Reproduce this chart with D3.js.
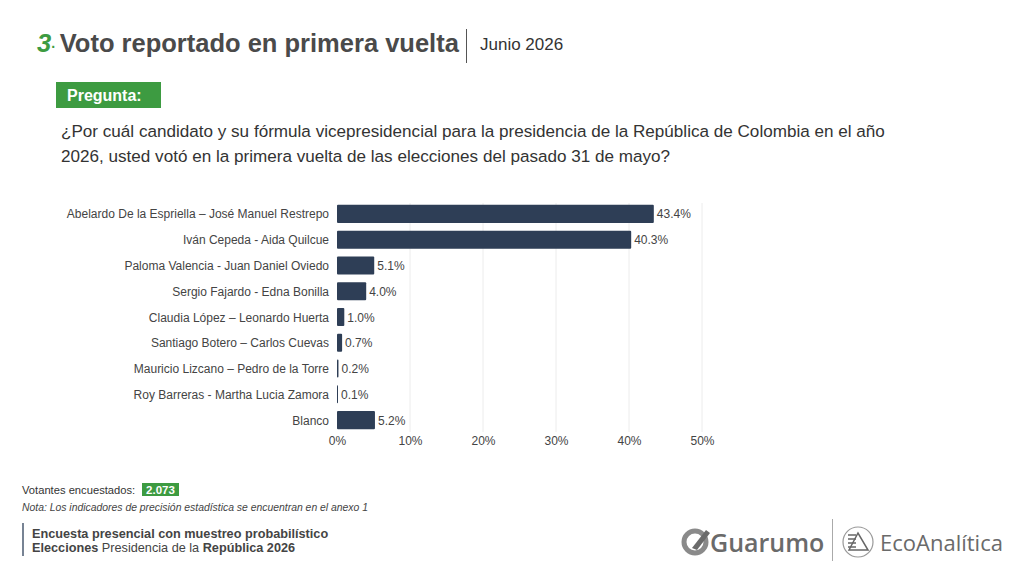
<!DOCTYPE html>
<html lang="es"><head>
<meta charset="utf-8">
<title>Voto reportado en primera vuelta</title>
<script src="https://cdn.jsdelivr.net/npm/d3@7"></script>
<style>
  body { margin: 0; background: #fff; }
  text { font-family: "Liberation Sans", Arial, Helvetica, sans-serif; }
</style>
</head>
<body>
<script>

var width = 1024;
var height = 576;

// datos
var candidatos = [
  "Abelardo De la Espriella – José Manuel Restrepo",
  "Iván Cepeda - Aida Quilcue",
  "Paloma Valencia - Juan Daniel Oviedo",
  "Sergio Fajardo - Edna Bonilla",
  "Claudia López – Leonardo Huerta",
  "Santiago Botero – Carlos Cuevas",
  "Mauricio Lizcano – Pedro de la Torre",
  "Roy Barreras - Martha Lucia Zamora",
  "Blanco"
];
var porcentajes = [43.4, 40.3, 5.1, 4.0, 1.0, 0.7, 0.2, 0.1, 5.2];
var ticks = [0, 10, 20, 30, 40, 50];

var green = "#3d9b41";
var dark = "#2e3e56";
var gray = "#4a4a4a";

var svg = d3.select("body").append("svg")
    .attr("width", width)
    .attr("height", height);

// titulo
var title = svg.append("text").attr("x", 37).attr("y", 52)
    .style("font-size", "25.5px").style("font-weight", "bold");
title.append("tspan").text("3").attr("fill", green).style("font-style", "italic");
title.append("tspan").text("· ").attr("fill", green).style("font-size", "14px");
title.append("tspan").text("Voto reportado en primera vuelta").attr("fill", gray);

svg.append("line").attr("x1", 466.5).attr("x2", 466.5).attr("y1", 29).attr("y2", 63)
    .attr("stroke", "#555").attr("stroke-width", 1);
svg.append("text").attr("x", 480).attr("y", 50).text("Junio  2026")
    .attr("fill", "#333").style("font-size", "17px");

// pregunta
svg.append("rect").attr("x", 56).attr("y", 82).attr("width", 105).attr("height", 26).attr("fill", green);
svg.append("text").attr("x", 67).attr("y", 101).text("Pregunta:")
    .attr("fill", "#fff").style("font-size", "16px").style("font-weight", "bold");

var preg = ["¿Por cuál candidato y su fórmula vicepresidencial para la presidencia de la República de Colombia en el año",
            "2026, usted votó en la primera vuelta de las elecciones del pasado 31 de mayo?"];
svg.selectAll(".preg").data(preg).enter().append("text")
    .attr("class", "preg")
    .attr("x", 61).attr("y", (d, i) => 137 + i * 25)
    .text(d => d)
    .attr("fill", "#333").style("font-size", "17.1px");

// grafico
var x = d3.scaleLinear().domain([0, 50]).range([337, 702]);
var y = d3.scaleBand().domain(candidatos).range([201, 433]).paddingInner(0.3).paddingOuter(0.15);

var g = svg.append("g");

g.selectAll(".grid").data(ticks.filter(t => t > 0)).enter().append("line")
    .attr("x1", d => x(d)).attr("x2", d => x(d))
    .attr("y1", 203).attr("y2", 432)
    .attr("stroke", "#ececec").attr("stroke-width", 1);

var xAxis = d3.axisBottom(x).tickValues(ticks).tickFormat(d => d + "%").tickSize(0).tickPadding(8);
g.append("g").attr("transform", "translate(0,428)").call(xAxis)
    .call(a => a.select(".domain").remove())
    .selectAll("text").attr("fill", "#444").style("font-size", "12px");

g.selectAll(".bar").data(porcentajes).enter().append("rect")
    .attr("x", x(0))
    .attr("y", (d, i) => y(candidatos[i]))
    .attr("width", d => Math.max(1, x(d) - x(0)))
    .attr("height", y.bandwidth())
    .attr("rx", 1)
    .attr("fill", dark);

g.selectAll(".val").data(porcentajes).enter().append("text")
    .attr("x", d => Math.max(x(d), x(0) + 1) + 3)
    .attr("y", (d, i) => y(candidatos[i]) + y.bandwidth() / 2 + 4.5)
    .text(d => d.toFixed(1) + "%")
    .attr("fill", "#444").style("font-size", "12px");

g.selectAll(".cat").data(candidatos).enter().append("text")
    .attr("x", 329)
    .attr("y", d => y(d) + y.bandwidth() / 2 + 4.5)
    .attr("text-anchor", "end")
    .text(d => d)
    .attr("fill", "#444").style("font-size", "12px");

// pie
svg.append("text").attr("x", 22).attr("y", 494).text("Votantes encuestados:")
    .attr("fill", "#333").style("font-size", "11.2px");
svg.append("rect").attr("x", 142).attr("y", 483).attr("width", 37).attr("height", 13).attr("fill", green);
svg.append("text").attr("x", 160.5).attr("y", 494).attr("text-anchor", "middle").text("2.073")
    .attr("fill", "#fff").style("font-size", "11.5px").style("font-weight", "bold");
svg.append("text").attr("x", 22).attr("y", 511)
    .text("Nota: Los indicadores de precisión estadística se encuentran en el anexo 1")
    .attr("fill", "#444").style("font-size", "10.4px").style("font-style", "italic");

svg.append("line").attr("x1", 23).attr("x2", 23).attr("y1", 523).attr("y2", 556)
    .attr("stroke", "#4a5a70").attr("stroke-width", 1.5);
svg.append("text").attr("x", 32).attr("y", 538)
    .text("Encuesta presencial con muestreo probabilístico")
    .attr("fill", "#444").style("font-size", "12.7px").style("font-weight", "bold");
var l2 = svg.append("text").attr("x", 32).attr("y", 552)
    .attr("fill", "#444").style("font-size", "12.7px");
l2.append("tspan").text("Elecciones").style("font-weight", "bold");
l2.append("tspan").text(" Presidencia de la ");
l2.append("tspan").text("República 2026").style("font-weight", "bold");

// logos
var logo = svg.append("g").attr("fill", "#777");
logo.append("circle").attr("cx", 695).attr("cy", 542).attr("r", 11)
    .attr("fill", "none").attr("stroke", "#8a8a8a").attr("stroke-width", 5);
logo.append("path").attr("d", "M692,548 L706,530 L710,533 L697,550 Z").attr("fill", "#6a6a6a");
logo.append("text").attr("x", 710).attr("y", 552).text("Guarumo")
    .attr("fill", "#6a6a6a").style("font-size", "25px").style("font-weight", "600")
    .style("font-family", "'Open Sans', sans-serif");
svg.append("line").attr("x1", 832.5).attr("x2", 832.5).attr("y1", 519).attr("y2", 561)
    .attr("stroke", "#aaa").attr("stroke-width", 1);
logo.append("circle").attr("cx", 858).attr("cy", 542).attr("r", 15)
    .attr("fill", "none").attr("stroke", "#999").attr("stroke-width", 1.2);
logo.append("path").attr("d", "M849,550 L858,533 L868,550 Z")
    .attr("fill", "none").attr("stroke", "#666").attr("stroke-width", 1.5);
[535, 539, 543, 547].forEach(function (yy) {
  logo.append("line").attr("x1", 848).attr("x2", 856).attr("y1", yy).attr("y2", yy)
      .attr("stroke", "#666").attr("stroke-width", 1.5);
});
logo.append("text").attr("x", 880).attr("y", 551).text("EcoAnalítica")
    .attr("fill", "#6a6a6a").style("font-size", "22px").style("font-family", "'Open Sans', sans-serif");

</script>
</body></html>
